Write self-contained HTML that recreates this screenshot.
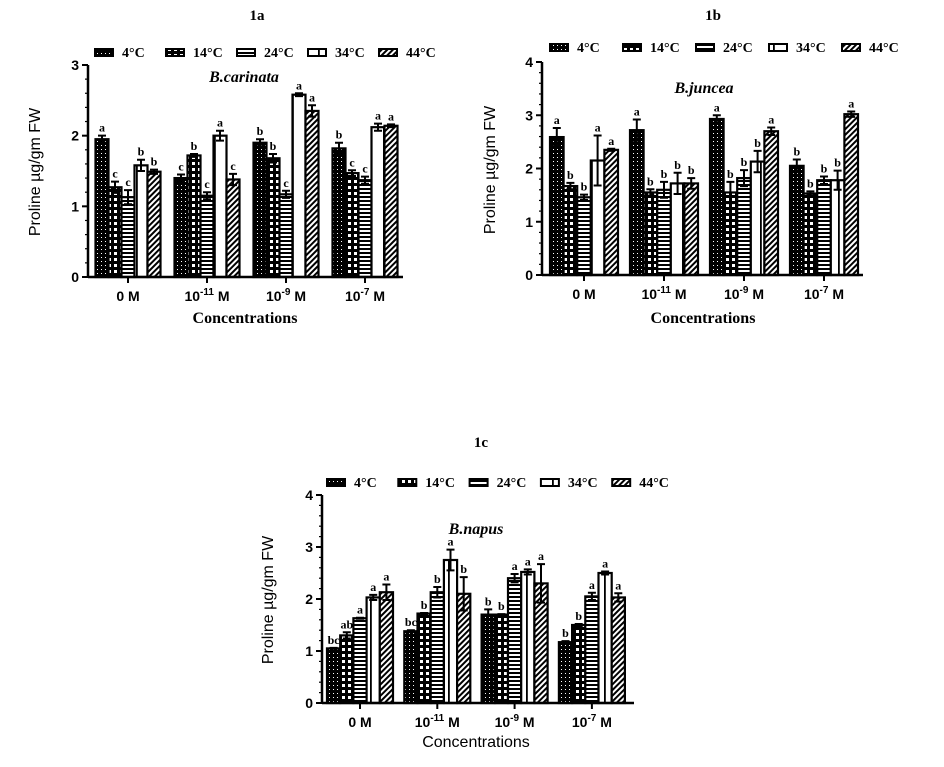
<!DOCTYPE html>
<html><head><meta charset="utf-8"><style>
html,body{margin:0;padding:0;background:#fff;}
svg{display:block;}
.serif{font-family:"Liberation Serif",serif;}
.sans{font-family:"Liberation Sans",sans-serif;}
</style></head><body>
<svg id="root" width="944" height="767" viewBox="0 0 944 767" xmlns="http://www.w3.org/2000/svg">
<defs>
<pattern id="p4" width="4" height="4" patternUnits="userSpaceOnUse"><rect width="4" height="4" fill="#000"/><rect x="1" y="1" width="1" height="1" fill="#fff"/></pattern>
<pattern id="p14" width="6" height="6" patternUnits="userSpaceOnUse"><rect width="6" height="6" fill="#000"/><rect x="0" y="0" width="3" height="3" fill="#fff"/></pattern>
<pattern id="p24" width="4" height="4" patternUnits="userSpaceOnUse"><rect width="4" height="4" fill="#fff"/><rect y="0" width="4" height="2" fill="#000"/></pattern>
<pattern id="p34" width="13" height="4" patternUnits="userSpaceOnUse"><rect width="13" height="4" fill="#fff"/><rect x="6" width="1.8" height="4" fill="#000"/></pattern>
<pattern id="p44" width="4" height="4" patternUnits="userSpaceOnUse" patternTransform="rotate(45)"><rect width="4" height="4" fill="#fff"/><rect width="2" height="4" fill="#000"/></pattern>
</defs>
</svg>
<script>
const categories = ["0 M","10^-11 M","10^-9 M","10^-7 M"];
const seriesNames = ["4°C","14°C","24°C","34°C","44°C"];
const yTicksA = [0,1,2,3];
const yTicksB = [0,1,2,3,4];
const yTicksC = [0,1,2,3,4];
const valuesA = [[1.95,1.27,1.13,1.58,1.49],[1.40,1.72,1.15,2.00,1.38],[1.90,1.68,1.17,2.58,2.35],[1.82,1.47,1.37,2.12,2.14]];
const errorsA = [[0.05,0.08,0.10,0.08,0.03],[0.05,0.02,0.05,0.07,0.08],[0.05,0.06,0.05,0.02,0.08],[0.08,0.04,0.05,0.05,0.02]];
const lettersA = [["a","c","c","b","b"],["c","b","c","a","c"],["b","b","c","a","a"],["b","c","c","a","a"]];
const valuesB = [[2.59,1.67,1.46,2.15,2.35],[2.72,1.55,1.60,1.72,1.72],[2.93,1.55,1.82,2.13,2.70],[2.05,1.53,1.78,1.78,3.02]];
const errorsB = [[0.17,0.06,0.05,0.47,0.02],[0.20,0.06,0.15,0.20,0.10],[0.07,0.20,0.15,0.20,0.07],[0.12,0.04,0.07,0.18,0.05]];
const lettersB = [["a","b","b","a","a"],["a","b","b","b","b"],["a","b","b","b","a"],["b","b","b","b","a"]];
const valuesC = [[1.05,1.30,1.63,2.03,2.13],[1.38,1.72,2.13,2.75,2.10],[1.70,1.70,2.40,2.52,2.30],[1.17,1.50,2.05,2.50,2.03]];
const errorsC = [[0.01,0.06,0.01,0.05,0.15],[0.02,0.01,0.10,0.20,0.32],[0.10,0.01,0.08,0.05,0.37],[0.02,0.02,0.07,0.03,0.08]];
const lettersC = [["bc","ab","a","a","a"],["bc","b","b","a","b"],["b","b","a","a","a"],["b","b","a","a","a"]];

const NS="http://www.w3.org/2000/svg";
const root=document.getElementById('root');
function mk(tag,attrs,parent,text){const e=document.createElementNS(NS,tag);for(const k in attrs)e.setAttribute(k,attrs[k]);if(text!==undefined)e.textContent=text;(parent||root).appendChild(e);return e;}
const pats=["url(#p4)","url(#p14)","url(#p24)","url(#p34)","url(#p44)"];

function catLabel(g,x,y,txt){
  const t=mk('text',{x:x,y:y,'text-anchor':'middle','font-size':14,'font-weight':'bold',class:'sans'},g);
  
  
  const m=txt.match(/^10\^(-\d+) M$/);
  if(m){mk('tspan',{},t,'10');mk('tspan',{dy:-6,'font-size':10},t,m[1]);mk('tspan',{dy:6},t,' M');}
  else t.textContent=txt;
}

function chart(o){
  const g=mk('g',{});
  
  
  const yS=v=>o.y0-(v/o.ymax)*(o.y0-o.y1);
  const xC=i=>o.c0+i*o.sp;
  const tt=mk('text',{x:o.titleX,y:o.titleY,'text-anchor':'middle','font-size':15,'font-weight':'bold',class:'serif'},g,o.title);
  
  seriesNames.forEach((s,i)=>{
    const lx=o.lx+i*o.lsp;
    const r=mk('rect',{x:lx,y:o.ly,width:18,height:7,fill:pats[i],stroke:'#000','stroke-width':2},g);
    
    const t=mk('text',{x:lx+27,y:o.ly+8,'font-size':14,'font-weight':'bold',class:'serif'},g,s);
    
  });
  const sp=mk('text',{x:o.spX,y:o.spY,'text-anchor':'middle','font-size':16,'font-weight':'bold','font-style':'italic',class:'serif'},g,o.species);
  
  o.vals.forEach((grp,gi)=>{
    grp.forEach((v,si)=>{
      const x=xC(gi)-2.5*o.bw+si*o.bw;
      const b=mk('rect',{x:x,y:yS(v),width:o.bw,height:o.y0-yS(v),fill:pats[si],stroke:'#000','stroke-width':2.2},g);
      
      const e=o.errs[gi][si],cx=x+o.bw/2;
      const eb=mk('path',{d:`M${cx},${yS(v-e)}V${yS(v+e)}M${cx-4},${yS(v+e)}H${cx+4}M${cx-4},${yS(v-e)}H${cx+4}`,stroke:'#000','stroke-width':2,fill:'none'},g);
      
      const l=mk('text',{x:cx,y:yS(v+e)-4,'text-anchor':'middle','font-size':12,'font-weight':'bold',class:'serif'},g,o.lets[gi][si]);
      
    });
  });
  const ya=mk('path',{d:`M${o.x0},${o.y1}V${o.y0}`,stroke:'#000','stroke-width':2.5},g);
  
  const xa=mk('path',{d:`M${o.x0},${o.y0}H${o.xe}`,stroke:'#000','stroke-width':2.5},g);
  
  o.ticks.forEach((t,i)=>{
    const y=yS(t);
    mk('path',{d:`M${o.x0-6},${y}H${o.x0}`,stroke:'#000','stroke-width':2},g);
    const lbl=mk('text',{x:o.x0-9,y:y+5,'text-anchor':'end','font-size':14,'font-weight':'bold',class:'sans'},g,String(t));
    
    if(i<o.ticks.length-1){for(let k=1;k<5;k++){const yy=yS(t+k*(o.ticks[i+1]-t)/5);mk('path',{d:`M${o.x0-3},${yy}H${o.x0}`,stroke:'#000','stroke-width':1.2},g);}}
  });
  categories.forEach((c,i)=>{
    mk('path',{d:`M${xC(i)},${o.y0}v6`,stroke:'#000','stroke-width':2},g);
    catLabel(g,xC(i),o.y0+24,c);
  });
  const xt=mk('text',{x:o.xtX,y:o.xtY,'text-anchor':'middle','font-size':16,'font-weight':o.xtSerif?'bold':'normal',class:o.xtSerif?'serif':'sans'},g,'Concentrations');
  
  const yt=mk('text',{x:0,y:0,'text-anchor':'middle','font-size':16,class:'sans',transform:`translate(${o.ytX},${o.ytY}) rotate(-90)`},g,'Proline µg/gm FW');
  
}

chart({name:'chart-1a',title:'1a',titleX:257,titleY:20,x0:88,xe:403,y0:277,y1:65,ymax:3,ticks:yTicksA,c0:128,sp:79,bw:13,
  vals:valuesA,errs:errorsA,lets:lettersA,lx:95,ly:49,lsp:71,species:'B.carinata',spX:244,spY:82,xtX:245,xtY:323,xtSerif:true,ytX:40,ytY:172});
chart({name:'chart-1b',title:'1b',titleX:713,titleY:20,x0:542,xe:863,y0:275,y1:62,ymax:4,ticks:yTicksB,c0:584,sp:80,bw:13.6,
  vals:valuesB,errs:errorsB,lets:lettersB,lx:550,ly:44,lsp:73,species:'B.juncea',spX:704,spY:93,xtX:703,xtY:323,xtSerif:true,ytX:495,ytY:170});
chart({name:'chart-1c',title:'1c',titleX:481,titleY:447,x0:322,xe:634,y0:703,y1:495,ymax:4,ticks:yTicksC,c0:360,sp:77.3,bw:13.2,
  vals:valuesC,errs:errorsC,lets:lettersC,lx:327,ly:479,lsp:71.3,species:'B.napus',spX:476,spY:534,xtX:476,xtY:747,xtSerif:false,ytX:273,ytY:600});
</script>
</body></html>
